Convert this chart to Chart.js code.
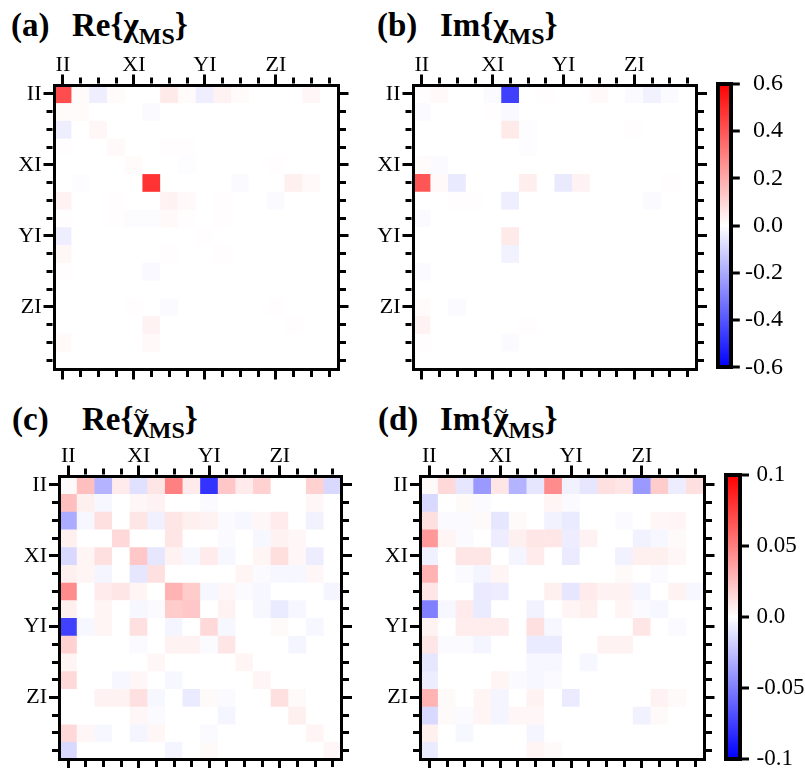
<!DOCTYPE html>
<html>
<head>
<meta charset="utf-8">
<script src="https://cdn.jsdelivr.net/npm/chart.js@4.4.1/dist/chart.umd.min.js"></script>
<style>
    body { margin: 0; width: 805px; height: 768px; position: relative; background: #fff; overflow: hidden; }
    canvas { position: absolute; }
    .title { position: absolute; font: bold 33px/1 'Liberation Serif', serif; color: #000; white-space: nowrap; }
    .sub { font-size: 24px; position: relative; top: 8px; }
    .chi { position: relative; }
    .tilde { position: absolute; left: 0; right: 0; top: -2px; text-align: center; font-size: 24px; font-weight: normal; }
</style>
</head>
<body>
<div class="title" style="left:11px;top:9px">(a)</div>
<div class="title" style="left:72px;top:9px">Re{χ<span class="sub">MS</span>}</div>
<div class="title" style="left:377px;top:9px">(b)</div>
<div class="title" style="left:440px;top:9px">Im{χ<span class="sub">MS</span>}</div>
<div class="title" style="left:12px;top:403px">(c)</div>
<div class="title" style="left:82px;top:403px">Re{<span class="chi">χ<span class="tilde">~</span></span><span class="sub">MS</span>}</div>
<div class="title" style="left:378px;top:403px">(d)</div>
<div class="title" style="left:440px;top:403px">Im{<span class="chi">χ<span class="tilde">~</span></span><span class="sub">MS</span>}</div>

<canvas id="heatA" width="370" height="345" style="left:0;top:50px"></canvas>
<canvas id="heatB" width="350" height="345" style="left:360px;top:50px"></canvas>
<canvas id="barB" width="83" height="345" style="left:700px;top:50px"></canvas>
<canvas id="heatC" width="370" height="328" style="left:0;top:440px"></canvas>
<canvas id="heatD" width="350" height="328" style="left:370px;top:440px"></canvas>
<canvas id="barD" width="100" height="328" style="left:705px;top:440px"></canvas>

<script>
// Pauli basis, rows and columns of every matrix
const paulis = ['II', 'IX', 'IY', 'IZ', 'XI', 'XX', 'XY', 'XZ', 'YI', 'YX', 'YY', 'YZ', 'ZI', 'ZX', 'ZY', 'ZZ'];
const shownLabels = ['II', 'XI', 'YI', 'ZI'];

const topBarTicks = [0.6, 0.4, 0.2, 0.0, -0.2, -0.4, -0.6];
const bottomBarTicks = [0.1, 0.05, 0.0, -0.05, -0.1];

// (a) Re{chi_MS}
const reChi = [
    [0.42, 0.01, -0.04, 0.01, 0, 0, 0.05, 0.01, -0.04, 0.03, 0.01, 0, 0, 0, 0.02, 0],
    [0.01, 0.01, 0, 0, 0, -0.01, 0, 0, 0, 0, 0, 0, 0, 0, 0, 0],
    [-0.04, 0, 0.02, 0, 0, 0, 0, 0, 0, 0, 0, 0, 0, 0, 0, 0],
    [0.005, 0, 0, 0.015, 0, 0, 0.005, 0.005, 0, 0, 0, 0, 0, 0, 0, 0],
    [0, 0, 0, 0, 0.01, 0, 0, -0.005, 0, 0, 0, 0, 0.005, 0, 0, 0],
    [0, -0.005, 0, 0, 0, 0.48, 0, 0, 0, 0, -0.01, 0, 0, 0.035, 0.015, 0],
    [0.03, 0, 0, 0.005, 0, 0, 0.03, 0.015, 0, 0.005, 0, 0, -0.01, 0, 0, 0],
    [0.005, 0, 0, 0.005, -0.008, -0.008, 0.015, 0.005, 0, 0.005, 0, 0, 0, 0, 0, 0],
    [-0.04, 0, 0, 0, 0, 0, 0, 0, 0.005, 0, 0, 0, 0, 0, 0, 0],
    [0.02, 0, 0, 0, 0, 0, 0.005, 0, 0, 0.005, 0, 0, 0, 0, 0, 0],
    [0.005, 0, 0, 0, 0, -0.015, 0, 0, 0, 0, 0, 0, 0, 0, 0, 0],
    [0, 0, 0, 0, 0, 0, 0, 0, 0, 0, 0, 0, 0, 0, 0, 0],
    [0, 0, 0, 0, 0.005, 0, -0.01, 0, 0, 0, 0, 0, 0.005, 0, 0, 0],
    [0, 0, 0, 0, 0, 0.03, 0, 0, 0, 0, 0, 0, 0, 0.005, 0, 0],
    [0.015, 0, 0, 0, 0, 0.015, 0, 0, 0, 0, 0, 0, 0, 0, 0, 0],
    [0, 0, 0, 0, 0, 0, 0, 0, 0, 0, 0, 0, 0, 0, 0, 0]
];

// (b) Im{chi_MS}
const imChi = [
    [0.005, 0.015, 0, 0, -0.01, -0.45, 0, 0.005, 0, 0, 0.015, 0, -0.01, -0.03, -0.01, 0],
    [-0.01, 0, 0, 0, 0.005, -0.015, 0, 0, 0, 0, 0, 0, 0, 0, 0, 0],
    [0, 0, 0, 0, 0, 0.05, -0.005, 0, 0, 0, 0, 0, 0.005, 0, 0, 0],
    [0, 0, 0, 0, 0, 0, -0.005, 0, 0, 0, 0, 0, 0, 0, 0, 0],
    [0.01, -0.01, 0, 0, 0, 0, 0, 0, 0, 0, 0, 0, 0, 0, 0, 0],
    [0.4, 0.015, -0.05, 0, 0, 0, 0.04, 0, -0.05, 0.03, 0, 0, 0, 0, 0.005, 0],
    [0, 0, 0.005, 0.005, 0, -0.04, 0, 0, 0, 0, 0, 0, 0, -0.01, 0, 0],
    [-0.01, 0, 0, 0, 0, 0, 0, 0, 0, 0, 0, 0, 0, 0, 0, 0],
    [0, 0, 0, 0, 0, 0.05, 0, 0, 0, 0, 0, 0, 0, 0, 0, 0],
    [0, 0, 0, 0, 0, -0.03, 0, 0, 0, 0, 0, 0, 0, 0, 0, 0],
    [-0.01, 0, 0, 0, 0, 0, 0, 0, 0, 0, 0, 0, 0, 0, 0, 0],
    [0, 0, 0, 0, 0, 0, 0, 0, 0, 0, 0, 0, 0, 0, 0, 0],
    [0.01, 0, -0.01, 0, 0, 0, 0, 0, 0, 0, 0, 0, 0, 0, 0, 0],
    [0.03, 0, 0, 0, 0, 0, 0.005, 0, 0, 0, 0, 0, 0, 0, 0, 0],
    [0.005, 0, 0, 0, 0, -0.01, 0, 0, 0, 0, 0, 0, 0, 0, 0, 0],
    [0, 0, 0, 0, 0, 0, 0, 0, 0, 0, 0, 0, 0, 0, 0, 0]
];

// (c) Re{chi~_MS}
const reChiT = [
    [0.002, 0.025, -0.03, 0.008, -0.012, 0.01, 0.05, 0.008, -0.08, 0.022, 0.008, 0.018, 0, 0, 0.018, -0.015],
    [0.025, 0.006, -0.003, 0, 0.003, 0.005, 0, 0, -0.002, 0, 0, 0, 0, 0, 0.003, 0],
    [-0.033, -0.003, 0.012, 0, 0.01, -0.006, 0.01, 0.006, 0.005, -0.002, -0.003, 0.003, 0.008, 0, -0.005, 0],
    [0.006, 0, 0, 0.015, 0, 0, 0.01, 0, 0, -0.002, 0, -0.003, 0.005, 0.003, 0, 0],
    [-0.015, 0.004, 0.012, 0, 0.022, -0.01, 0.005, -0.003, 0.008, -0.003, 0, 0.004, 0.013, 0.003, -0.007, 0],
    [0.006, 0.004, -0.004, 0, -0.01, 0.012, 0, 0, 0, 0, 0.004, -0.002, -0.003, -0.003, 0.003, 0],
    [0.045, 0, 0.008, 0.01, 0.004, 0, 0.03, 0.02, -0.003, 0.003, -0.002, -0.003, 0, 0, 0, -0.004],
    [0.006, 0, 0.004, 0, -0.003, -0.002, 0.02, 0.022, 0, 0.005, 0, -0.003, -0.008, -0.003, 0, 0],
    [-0.075, -0.003, 0.004, 0, 0.012, 0, -0.004, 0, 0.015, -0.003, 0, 0, 0.002, 0, -0.003, 0],
    [0.018, 0, 0, 0, -0.002, 0, 0.005, 0.005, -0.002, 0.01, 0, 0, 0, -0.004, 0, 0],
    [0.004, 0, 0, 0, 0, 0.003, 0, 0, 0, 0, 0.004, 0, 0, 0, 0, 0],
    [0.015, 0, 0, -0.003, 0.003, 0, -0.003, 0, 0, 0, 0, 0.004, 0, 0, 0, 0],
    [0, 0, 0.005, 0.005, 0.012, -0.003, 0, -0.008, 0.002, -0.002, 0, 0, 0.012, 0.002, 0, 0],
    [0, 0, 0, 0, 0.003, -0.002, 0, 0, 0, -0.004, 0, 0, 0, 0.006, 0, 0],
    [0.015, 0.003, -0.003, 0, -0.004, 0.003, 0, 0, -0.002, 0, 0, 0, 0, 0, 0.004, 0],
    [-0.015, 0, 0, 0, 0, 0, -0.004, 0, 0.002, 0, 0, 0, 0, 0, 0, 0.003]
];

// (d) Im{chi~_MS}
const imChiT = [
    [0.002, 0.015, -0.01, -0.04, 0.01, -0.03, -0.01, 0.045, -0.005, -0.01, 0.012, 0.01, -0.04, 0.02, -0.007, 0.012],
    [-0.015, 0, 0.002, -0.002, 0, 0, 0, 0.004, -0.002, 0, 0, 0, 0, 0, 0, 0],
    [0.012, -0.002, -0.002, 0.002, -0.01, 0.002, 0, -0.005, -0.008, 0, 0, -0.002, 0, 0.003, 0.004, 0],
    [0.04, 0.004, -0.002, 0, -0.007, 0.006, 0.01, 0.01, -0.007, 0.005, 0, 0, -0.005, -0.003, 0.002, 0],
    [-0.006, 0, 0.01, 0.01, 0, -0.004, 0.008, 0, -0.008, 0, 0, -0.005, 0.006, 0.006, 0.003, 0],
    [0.03, 0, -0.002, -0.004, 0.004, 0, 0, 0, 0, 0, 0, 0.002, 0, -0.002, 0, 0],
    [0.01, 0, 0, -0.008, -0.007, 0, 0, 0.006, -0.01, 0.008, 0.005, 0.005, -0.004, 0, 0.005, -0.003],
    [-0.05, -0.003, 0.008, -0.008, 0, 0, -0.005, 0, 0.004, 0.006, 0, 0.004, -0.002, -0.003, 0, 0],
    [0.005, 0, 0.007, 0.007, 0.007, 0, 0.012, -0.003, 0, 0, 0, 0, 0.01, 0, -0.002, 0],
    [0.01, -0.002, -0.002, -0.004, 0, 0, -0.008, -0.008, 0, 0, 0.005, 0.005, 0, 0, 0, 0],
    [-0.01, 0, 0, 0, 0, 0, -0.003, -0.003, 0, -0.003, 0, 0, 0, 0, 0, 0],
    [-0.007, 0, 0, 0, 0.004, -0.002, -0.003, -0.002, 0, 0, 0, 0, 0, 0, 0, 0],
    [0.03, 0.002, 0, 0.004, -0.004, 0, 0.005, 0, -0.008, 0, 0, 0, 0, 0.005, 0.002, 0],
    [-0.015, 0.002, -0.002, 0.004, -0.004, 0.003, 0.003, 0, 0, 0, 0, 0, -0.005, 0.002, 0, 0],
    [0.006, 0, -0.003, 0, 0, 0, -0.004, 0, 0, 0, 0, 0, 0, 0, 0, 0],
    [-0.008, 0, 0, 0, 0, 0, 0.004, 0.002, 0, 0, 0, 0, 0, 0, 0, 0]
];

const labelFont = { family: "'Liberation Serif', serif", size: 22 };

// blue - white - red, linear in rgb
function cmap(v, vmax) {
    const t = Math.max(-1, Math.min(1, v / vmax));
    const k = Math.round(255 * (1 - Math.abs(t)));
    return t >= 0 ? `rgb(255,${k},${k})` : `rgb(${k},${k},255)`;
}

function fixSize(size) {
    return (scale) => {
        if (scale.isHorizontal()) scale.height = size;
        else scale.width = size;
        scale.paddingTop = scale.paddingBottom = scale.paddingLeft = scale.paddingRight = 0;
    };
}

const frameBorder = { display: true, width: 3, color: '#000', z: 1 };
const barBorder = { display: true, width: 4, color: '#000', z: 1 };

// long ticks at II, XI, YI, ZI and short ones between
function frameGrid(position) {
    const fromOuter = position === 'top' || position === 'left';
    return {
        offset: false,
        drawOnChartArea: false,
        tickLength: 10.5,
        lineWidth: 3,
        tickWidth: 3,
        color: '#000',
        tickColor: '#000',
        tickBorderDash: (ctx) => ctx.index % 4 === 0 ? [] : (fromOuter ? [0, 3, 6, 40] : [6, 40])
    };
}

function pauliLabel(i) {
    return shownLabels.includes(paulis[i]) ? paulis[i] : '';
}

function columnAxis(position, size, labelled) {
    return {
        type: 'category', axis: 'x', position, offset: true,
        grid: frameGrid(position),
        border: frameBorder,
        ticks: { display: labelled, autoSkip: false, maxRotation: 0, padding: -4, color: '#000', font: labelFont,
                 callback: (v, i) => pauliLabel(i) },
        afterFit: fixSize(size)
    };
}

function rowAxis(position, size, labelled) {
    return {
        type: 'linear', axis: 'y', position, min: 0, max: paulis.length, reverse: true,
        grid: frameGrid(position),
        border: frameBorder,
        afterBuildTicks: (scale) => { scale.ticks = paulis.map((p, r) => ({ value: r + 0.5 })); },
        ticks: { display: labelled, autoSkip: false, padding: 2, color: '#000', font: labelFont,
                 callback: (v, i) => pauliLabel(i) },
        afterFit: fixSize(size)
    };
}

const baseOptions = {
    responsive: false,
    animation: false,
    devicePixelRatio: 1,
    events: [],
    layout: { padding: 0 },
    plugins: { legend: { display: false }, tooltip: { enabled: false } }
};

// box = [left, top, right, bottom] axis sizes
function makeHeatmap(canvasId, matrix, vmax, box) {
    const [left, top, right, bottom] = box;
    return new Chart(document.getElementById(canvasId), {
        type: 'bar',
        data: {
            labels: paulis,
            datasets: matrix.map((row, r) => ({
                data: row.map(() => [r, r + 1]),
                backgroundColor: row.map(v => cmap(v, vmax)),
                xAxisID: 'x',
                yAxisID: 'y',
                grouped: false,
                barPercentage: 1,
                categoryPercentage: 1,
                borderWidth: 0
            }))
        },
        options: {
            ...baseOptions,
            scales: {
                x: columnAxis('bottom', bottom, false),
                xTop: columnAxis('top', top, true),
                y: rowAxis('left', left, true),
                yRight: rowAxis('right', right, false)
            }
        }
    });
}

function formatTick(v) {
    return Math.abs(v) < 1e-9 ? '0.0' : String(+v.toFixed(2));
}

function barGradient(chart) {
    const area = chart.chartArea;
    if (!area) return '#fff';
    const g = chart.ctx.createLinearGradient(0, area.bottom, 0, area.top);
    g.addColorStop(0, cmap(-1, 1));
    g.addColorStop(0.5, cmap(0, 1));
    g.addColorStop(1, cmap(1, 1));
    return g;
}

function makeColorbar(canvasId, vmax, tickValues, box, labelOpts) {
    const [left, top, right, bottom] = box;
    const plainGrid = { drawOnChartArea: false, drawTicks: false, lineWidth: 4, color: '#000' };
    const edge = (type, position, size) => ({
        type, position,
        min: type === 'linear' ? -vmax : undefined,
        max: type === 'linear' ? vmax : undefined,
        grid: plainGrid, border: barBorder, ticks: { display: false },
        afterFit: fixSize(size)
    });
    return new Chart(document.getElementById(canvasId), {
        type: 'bar',
        data: {
            labels: [''],
            datasets: [{
                data: [[-vmax, vmax]],
                backgroundColor: (ctx) => barGradient(ctx.chart),
                xAxisID: 'x',
                yAxisID: 'y',
                barPercentage: 1,
                categoryPercentage: 1,
                borderWidth: 0
            }]
        },
        options: {
            ...baseOptions,
            scales: {
                y: {
                    type: 'linear', position: 'right', min: -vmax, max: vmax,
                    afterBuildTicks: (scale) => { scale.ticks = tickValues.map(v => ({ value: v })); },
                    grid: { drawOnChartArea: false, tickLength: labelOpts.tickLength, lineWidth: 4, tickWidth: 3, color: '#000', tickColor: '#000' },
                    border: barBorder,
                    ticks: { autoSkip: false, padding: labelOpts.padding, crossAlign: labelOpts.align, color: '#000',
                             font: { family: "'Liberation Serif', serif", size: labelOpts.fontSize },
                             callback: (v) => formatTick(v) },
                    afterFit: fixSize(right)
                },
                yLeft: edge('linear', 'left', left),
                x: edge('category', 'bottom', bottom),
                xTop: edge('category', 'top', top)
            }
        }
    });
}

makeHeatmap('heatA', reChi, 0.6, [54, 35, 32, 26]);
makeHeatmap('heatB', imChi, 0.6, [53, 35, 13.5, 26]);
// right-aligned labels end at the canvas edge
makeColorbar('barB', 0.6, topBarTicks, [18, 33.7, 51.7, 27.7], { tickLength: 8.5, padding: 0, align: 'far', fontSize: 24 });
makeHeatmap('heatC', reChiT, 0.1, [59.5, 36, 28.5, 8.5]);
makeHeatmap('heatD', imChiT, 0.1, [50.5, 36, 16, 8.5]);
makeColorbar('barD', 0.1, bottomBarTicks, [21, 35.3, 65, 9.3], { tickLength: 9, padding: 7.5, align: 'near', fontSize: 23 });
</script>
</body>
</html>
